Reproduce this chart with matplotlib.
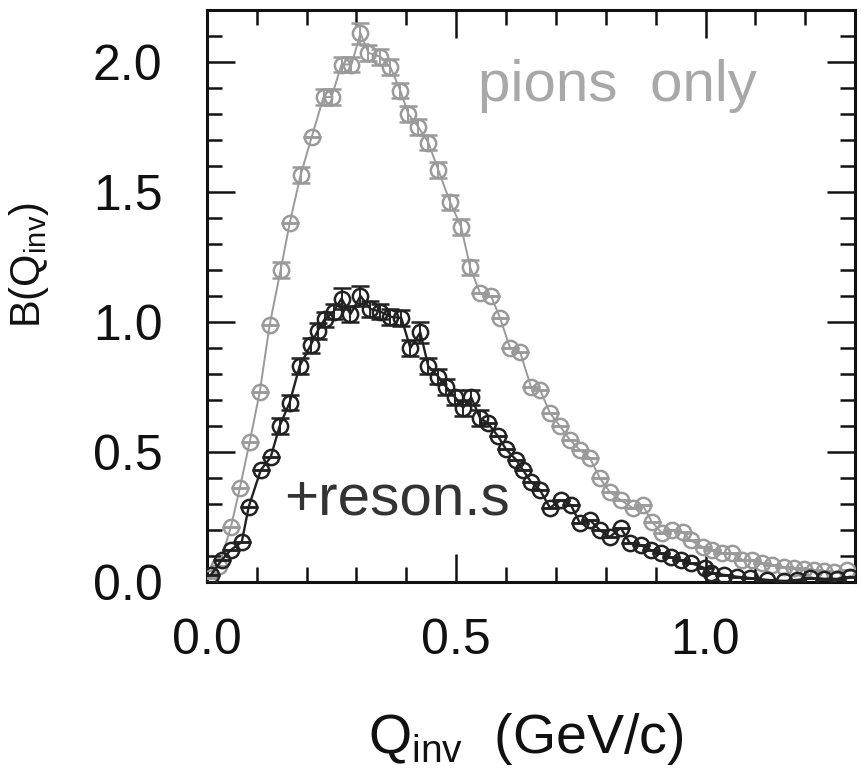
import matplotlib
matplotlib.use('Agg')
import matplotlib.pyplot as plt
from matplotlib.ticker import MultipleLocator

plt.rcParams['font.family'] = ['Liberation Sans', 'DejaVu Sans']
plt.rcParams['mathtext.fontset'] = 'custom'
plt.rcParams['mathtext.rm'] = 'Liberation Sans'

# pions only (grey)
q_pi = [0.004, 0.024, 0.048, 0.066, 0.086, 0.106, 0.126, 0.148, 0.166, 0.188,
        0.21, 0.234, 0.25, 0.27, 0.29, 0.308, 0.324, 0.348, 0.368, 0.388,
        0.404, 0.424, 0.444, 0.464, 0.488, 0.51, 0.528, 0.548, 0.57, 0.588,
        0.608, 0.628, 0.65, 0.668, 0.688, 0.708, 0.728, 0.748, 0.768, 0.788,
        0.808, 0.83, 0.854, 0.874, 0.892, 0.912, 0.932, 0.954, 0.97, 0.994,
        1.014, 1.034, 1.054, 1.074, 1.094, 1.114, 1.134, 1.158, 1.178, 1.198,
        1.218, 1.238, 1.258, 1.284]
b_pi = [0.015, 0.06, 0.21, 0.36, 0.54, 0.73, 0.99, 1.20, 1.38, 1.565,
        1.71, 1.865, 1.865, 1.99, 1.99, 2.11, 2.035, 2.02, 1.98, 1.89,
        1.80, 1.75, 1.69, 1.585, 1.46, 1.365, 1.21, 1.11, 1.10, 1.015,
        0.90, 0.885, 0.75, 0.74, 0.65, 0.60, 0.546, 0.508, 0.477, 0.40,
        0.346, 0.315, 0.285, 0.296, 0.232, 0.19, 0.20, 0.192, 0.16, 0.135,
        0.123, 0.11, 0.11, 0.085, 0.085, 0.073, 0.065, 0.058, 0.054, 0.05,
        0.046, 0.042, 0.038, 0.046]
err_pi = [0.0, 0.0, 0.0, 0.0, 0.0, 0.0, 0.0, 0.03, 0.0, 0.03,
          0.0, 0.03, 0.03, 0.03, 0.03, 0.04, 0.03, 0.03, 0.03, 0.03,
          0.03, 0.03, 0.03, 0.03, 0.03, 0.03, 0.03, 0.0, 0.0, 0.0,
          0.0, 0.0, 0.0, 0.0, 0.0, 0.0, 0.0, 0.0, 0.0, 0.0,
          0.0, 0.0, 0.0, 0.0, 0.0, 0.0, 0.0, 0.0, 0.0, 0.0,
          0.0, 0.0, 0.0, 0.0, 0.0, 0.0, 0.0, 0.0, 0.0, 0.0,
          0.0, 0.0, 0.0, 0.0]

# + resonances (black)
q_res = [0.008, 0.03, 0.048, 0.07, 0.084, 0.108, 0.128, 0.146, 0.166, 0.186,
         0.208, 0.222, 0.236, 0.254, 0.27, 0.288, 0.308, 0.328, 0.348, 0.368,
         0.39, 0.408, 0.428, 0.444, 0.464, 0.48, 0.498, 0.514, 0.53, 0.548,
         0.564, 0.584, 0.60, 0.62, 0.634, 0.65, 0.668, 0.688, 0.71, 0.73,
         0.748, 0.768, 0.788, 0.808, 0.83, 0.848, 0.87, 0.89, 0.91, 0.93,
         0.95, 0.97, 0.998, 1.01, 1.038, 1.064, 1.09, 1.124, 1.158, 1.184,
         1.21, 1.238, 1.264, 1.29]
b_res = [0.027, 0.085, 0.123, 0.154, 0.29, 0.43, 0.48, 0.60, 0.69, 0.83,
         0.91, 0.965, 1.01, 1.04, 1.09, 1.03, 1.10, 1.05, 1.04, 1.02,
         1.015, 0.90, 0.96, 0.83, 0.79, 0.75, 0.71, 0.67, 0.71, 0.63,
         0.61, 0.56, 0.51, 0.47, 0.43, 0.385, 0.354, 0.285, 0.315, 0.296,
         0.227, 0.238, 0.20, 0.173, 0.208, 0.15, 0.142, 0.123, 0.11, 0.096,
         0.085, 0.073, 0.054, 0.035, 0.027, 0.02, 0.015, 0.008, 0.004, 0.008,
         0.015, 0.012, 0.012, 0.02]
err_res = [0.0, 0.0, 0.0, 0.0, 0.0, 0.0, 0.0, 0.03, 0.03, 0.03,
           0.03, 0.03, 0.03, 0.03, 0.04, 0.03, 0.04, 0.03, 0.03, 0.03,
           0.03, 0.03, 0.04, 0.03, 0.03, 0.03, 0.03, 0.03, 0.03, 0.03,
           0.0, 0.0, 0.0, 0.0, 0.0, 0.0, 0.0, 0.0, 0.0, 0.0,
           0.0, 0.0, 0.0, 0.0, 0.0, 0.0, 0.0, 0.0, 0.0, 0.0,
           0.0, 0.0, 0.0, 0.0, 0.0, 0.0, 0.0, 0.0, 0.0, 0.0,
           0.0, 0.0, 0.0, 0.0]

grey = '#9a9a9a'
dark = '#222222'

fig = plt.figure(figsize=(8.62, 7.82), dpi=100)
ax = fig.add_axes([0.240, 0.2558, 0.752, 0.7315])

ax.plot(q_pi, b_pi, '-', color=grey, lw=1.4, zorder=2)
ax.errorbar(q_pi, b_pi, yerr=err_pi, fmt='o', ms=11, mfc='none', mec=grey,
            mew=1.8, ecolor=grey, elinewidth=1.4, capsize=6.5, capthick=1.8, zorder=3)

ax.plot(q_res, b_res, '-', color=dark, lw=1.7, zorder=4)
ax.errorbar(q_res, b_res, yerr=err_res, fmt='o', ms=11, mfc='none', mec=dark,
            mew=1.8, ecolor=dark, elinewidth=1.4, capsize=6.5, capthick=1.8, zorder=5)

ax.text(0.544, 1.85, 'pions  only', color='#a8a8a8', fontsize=42, va='baseline')
ax.text(0.154, 0.258, '+reson.s', color='#333333', fontsize=42, va='baseline')

ax.set_xlim(0, 1.3)
ax.set_ylim(0, 2.2)
ax.xaxis.set_major_locator(MultipleLocator(0.5))
ax.xaxis.set_minor_locator(MultipleLocator(0.1))
ax.yaxis.set_major_locator(MultipleLocator(0.5))
ax.yaxis.set_minor_locator(MultipleLocator(0.1))
ax.xaxis.set_major_formatter(plt.FormatStrFormatter('%.1f'))
ax.yaxis.set_major_formatter(plt.FormatStrFormatter('%.1f'))

ax.tick_params(which='both', direction='in', top=True, right=True, colors='#111111')
ax.tick_params(which='major', length=20, width=1.8, labelsize=36, pad=26)
ax.tick_params(which='minor', length=11, width=1.8)
ax.tick_params(axis='y', which='major', pad=32)
for s in ax.spines.values():
    s.set_linewidth(2.2)
    s.set_color('#111111')

ax.set_xlabel(r'Q$_{\mathregular{inv}}$  (GeV/c)', fontsize=40, color='#111111')
ax.xaxis.set_label_coords(0.492, -0.225)
ax.set_ylabel(r'B(Q$_{\mathregular{inv}}$)', fontsize=30, color='#111111')
ax.yaxis.set_label_coords(-0.24, 0.554)

fig.savefig('out.png', dpi=100)
